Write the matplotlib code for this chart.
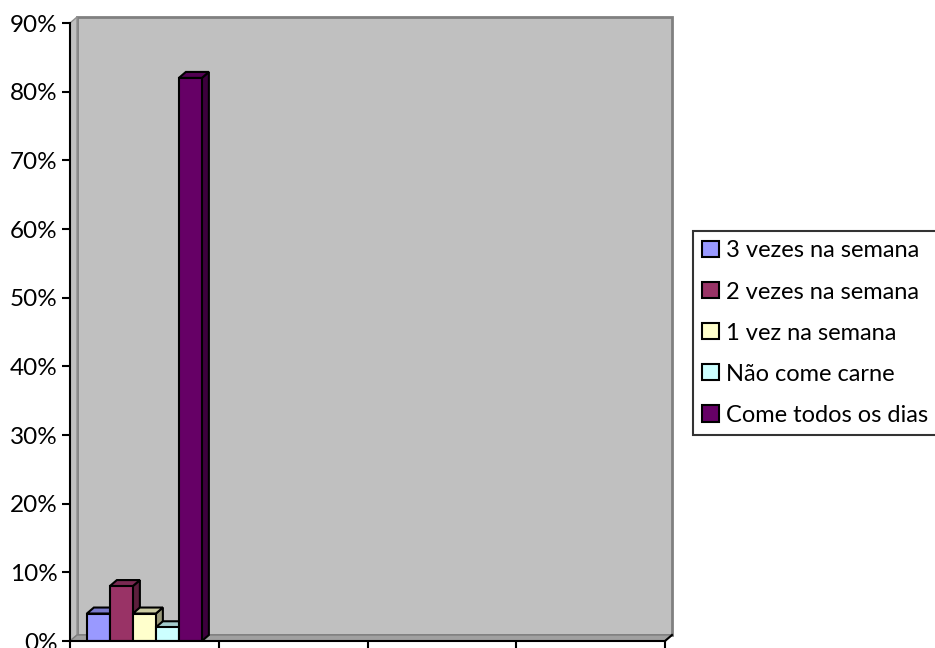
import matplotlib
matplotlib.use("Agg")
import matplotlib.pyplot as plt
from matplotlib.patches import Polygon, Patch
import numpy as np

plt.rcParams['font.family'] = ['Lato', 'DejaVu Sans']

# Frequência de consumo de carne
series = ['3 vezes na semana', '2 vezes na semana', '1 vez na semana',
          'Não come carne', 'Come todos os dias']
values = [4, 8, 4, 2, 82]
colors = ['#9999FF', '#993366', '#FFFFCC', '#CCFFFF', '#660066']
n_categories = 4
yticks = list(range(0, 91, 10))

W, H = 935, 648
fig = plt.figure(figsize=(W / 100, H / 100), dpi=100)
ax = fig.add_axes([70 / W, 7 / H, 595 / W, 618 / H])
ax.set_xlim(0, n_categories)
ax.set_ylim(0, 90)
ax.patch.set_visible(False)

# depth offset of the 3D box, in data units
dx = 7 * n_categories / 595
dy = 6 * 90 / 618

def shade(c, k):
    rgb = np.array(matplotlib.colors.to_rgb(c))
    return tuple(rgb * k)

# walls and floor
wall = '#c0c0c0'
ax.add_patch(Polygon([(dx, dy), (n_categories + dx, dy), (n_categories + dx, 90 + dy), (dx, 90 + dy)],
                     closed=True, fc=wall, ec='#808080', lw=2, zorder=1, clip_on=False))
ax.add_patch(Polygon([(0, 0), (dx, dy), (dx, 90 + dy), (0, 90)],
                     closed=True, fc=wall, ec='#909090', lw=1, zorder=1, clip_on=False))
ax.add_patch(Polygon([(0, 0), (n_categories, 0), (n_categories + dx, dy), (dx, dy)],
                     closed=True, fc='#a0a0a0', ec='#808080', lw=1, zorder=1, clip_on=False))
ax.plot([n_categories, n_categories + dx], [0, dy], color='black', lw=1.5, zorder=3, clip_on=False)

# 3D columns, all in the first category
bw = 0.1546
x0 = 0.5 - bw * len(values) / 2
for i, (v, c) in enumerate(zip(values, colors)):
    xl = x0 + i * bw
    xr = xl + bw
    front = Polygon([(xl, 0), (xr, 0), (xr, v), (xl, v)], closed=True,
                    fc=c, ec='black', lw=1.5, zorder=2 + i * 0.1)
    top = Polygon([(xl, v), (xr, v), (xr + dx, v + dy), (xl + dx, v + dy)], closed=True,
                  fc=shade(c, 0.8), ec='black', lw=1.5, zorder=2 + i * 0.1)
    side = Polygon([(xr, 0), (xr + dx, dy), (xr + dx, v + dy), (xr, v)], closed=True,
                   fc=shade(c, 0.6), ec='black', lw=1.5, zorder=2 + i * 0.1)
    for p in (side, top, front):
        ax.add_patch(p)

for s in ['top', 'right']:
    ax.spines[s].set_visible(False)
for s in ['left', 'bottom']:
    ax.spines[s].set_color('black')
    ax.spines[s].set_linewidth(1.5)
    ax.spines[s].set_zorder(3)

ax.set_yticks(yticks)
ax.set_yticklabels([f'{v}%' for v in yticks], fontsize=17.5)
ax.set_xticks(range(n_categories + 1))
ax.set_xticklabels([])
ax.tick_params(axis='both', direction='out', length=6, width=1.5, color='black')
ax.tick_params(axis='y', pad=3)

handles = [Patch(fc=c, ec='black', lw=1.5) for c in colors]
leg = fig.legend(handles, series, loc='upper left', bbox_to_anchor=(693 / W, 1 - 231 / H),
                 frameon=True, fancybox=False, edgecolor='black', fontsize=17,
                 handlelength=0.68, handleheight=0.68, handletextpad=0.3,
                 labelspacing=0.85, borderpad=0.4, borderaxespad=0)
leg.get_frame().set_linewidth(1.5)

fig.savefig('out.png', dpi=100)
